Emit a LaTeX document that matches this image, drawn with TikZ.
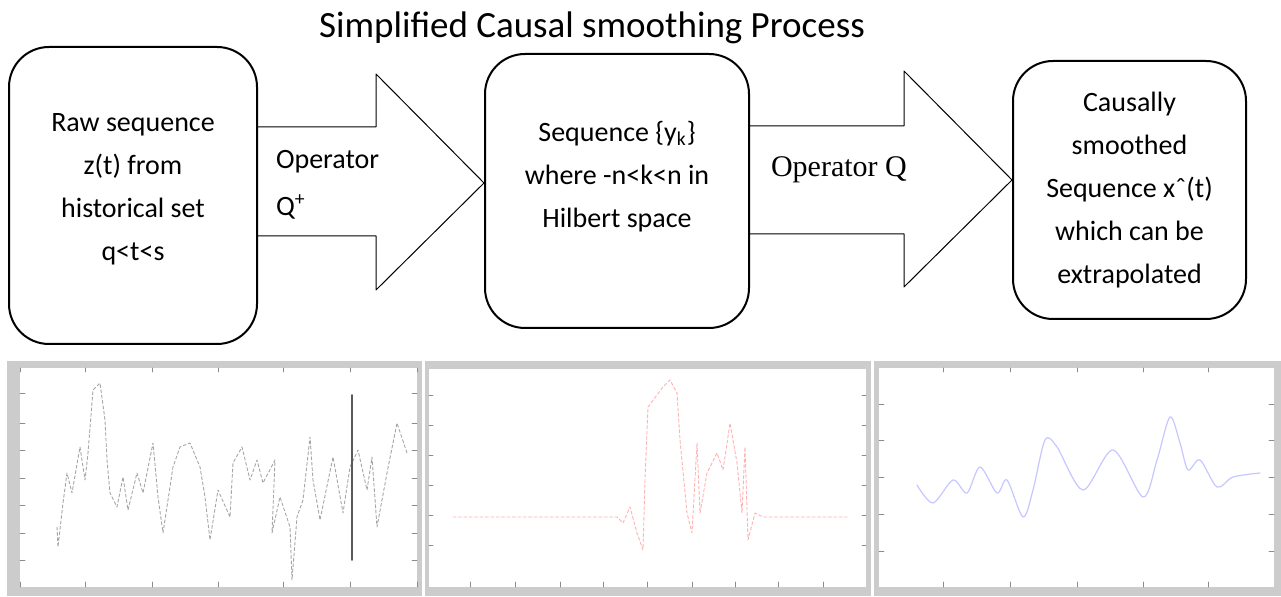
\documentclass[tikz,border=0pt]{standalone}
\usepackage{fontspec}
\setmainfont{Carlito}
\newfontfamily\timesfont{Liberation Serif}
\begin{document}
\begin{tikzpicture}[x=0.5pt,y=-0.5pt,line join=round,line cap=round,
  stage/.style={draw,line width=1pt,rounded corners=20pt,align=center,font=\fontsize{14}{21.5}\selectfont},
  blockarrow/.style={draw,line width=0.5pt},
  frame/.style={fill=black!20},
  tick/.style={black!45,line width=0.4pt},
  trace/.style={line width=0.45pt,dash pattern=on 1.5pt off 1.2pt}]
\useasboundingbox (0,0) rectangle (1281,597);
\def \ya{127}\def \yb{236}\def \yc{126}\def \yd{234}
% title and the three stages
\node[font=\fontsize{18.5}{22}\selectfont] (title) at (592,28) {Simplified Causal smoothing Process};
\node[stage,minimum width=124pt,minimum height=148.5pt] (raw) at (133,195.5)
  {Raw sequence\\z(t) from\\historical set\\q<t<s\\[-13pt]};
\node[stage,minimum width=132pt,minimum height=137pt] (hilb) at (617,191)
  {Sequence \{y\textsubscript{k}\}\\where -n<k<n in\\Hilbert space\\[-5pt]};
\node[stage,minimum width=116.5pt,minimum height=129pt] (smooth) at (1129.5,190)
  {Causally\\smoothed\\Sequence xˆ(t)\\which can be\\extrapolated};
% block arrows
\coordinate (tipA) at (hilb.west |- 0,183);
\coordinate (tipB) at (smooth.west |- 0,180);
\draw[blockarrow] (raw.east |- 0,\ya) -- (376,\ya) -- (376,74) -- (tipA)
  -- (376,290) -- (376,\yb) -- (raw.east |- 0,\yb);
\draw[blockarrow] (hilb.east |- 0,\yc) -- (904,\yc) -- (904,71) -- (tipB)
  -- (904,287) -- (904,\yd) -- (hilb.east |- 0,\yd);
\node[anchor=west,align=left,font=\fontsize{14}{23.5}\selectfont] (opA) at (269,185) {Operator\\Q\textsuperscript{+}};
\node[anchor=west,font=\timesfont\fontsize{15}{18}\selectfont] (opB) at (764,170) {Operator Q};
% plot panels
\fill[frame] (7,361) rectangle (422,596);
\fill[white] (20,368) rectangle (417,587);
\fill[frame] (425,361) rectangle (871,596);
\fill[white] (429,369) rectangle (866,587);
\fill[frame] (874,361) rectangle (1281,596);
\fill[white] (879,368) rectangle (1274,587);
\foreach \x in {20,85,152,218,283,350,417} \draw[tick] (\x,587)--(\x,582) (\x,368)--(\x,372);
\foreach \y in {393,423,450,478,505,533,560} \draw[tick] (20,\y)--(25,\y) (417,\y)--(412,\y);
\foreach \x in {470,515,560,603,647,692,735,778,823} \draw[tick] (\x,587)--(\x,582);
\foreach \y in {395,425,455,485,515,545} \draw[tick] (429,\y)--(433,\y) (866,\y)--(862,\y);
\foreach \x in {943,1010,1077,1143,1208} \draw[tick] (\x,587)--(\x,582) (\x,368)--(\x,372);
\foreach \y in {404,440,477,514,551} \draw[tick] (879,\y)--(884,\y) (1274,\y)--(1269,\y);
% raw data
\draw[trace,black!35] plot coordinates {(57,527) (58,547) (63,503) (67,473) (72,493) (80,447) (85,480) (88,453)
  (93,390) (100,383) (105,420) (107,460) (110,493) (117,507) (123,477) (128,510) (137,473) (143,493) (153,443)
  (158,497) (163,533) (173,467) (180,447) (190,443) (200,467) (205,497) (210,540) (218,490) (230,517) (233,463)
  (242,447) (250,480) (257,460) (263,483) (275,460) (272,533) (280,497) (290,527) (292,580) (297,517) (303,500)
  (310,437) (313,480) (320,520) (333,457) (343,513) (350,467) (358,450) (367,490) (372,457) (377,527) (387,473)
  (397,423) (407,453)};
\draw[black!65,line width=0.8pt] (352,395)--(352,560);
% sequence in Hilbert space
\draw[trace,red!30] plot coordinates {(453,517) (617,517) (623,523) (630,507) (637,533) (643,550) (645,480)
  (648,407) (663,387) (670,380) (677,393) (680,440) (687,513) (692,533) (697,443) (700,513) (707,473) (717,453)
  (723,470) (730,423) (737,463) (742,513) (745,447) (748,540) (755,513) (763,517) (847,517)};
% smoothed sequence
\draw[blue!22,line width=0.6pt,smooth] plot coordinates {(917,485) (933,503) (953,480) (967,493) (980,467)
  (997,493) (1007,480) (1023,517) (1033,490) (1045,440) (1057,447) (1083,490) (1113,450) (1143,497) (1157,460)
  (1170,417) (1180,443) (1188,470) (1200,460) (1217,487) (1233,477) (1260,473)};
\end{tikzpicture}
\end{document}
